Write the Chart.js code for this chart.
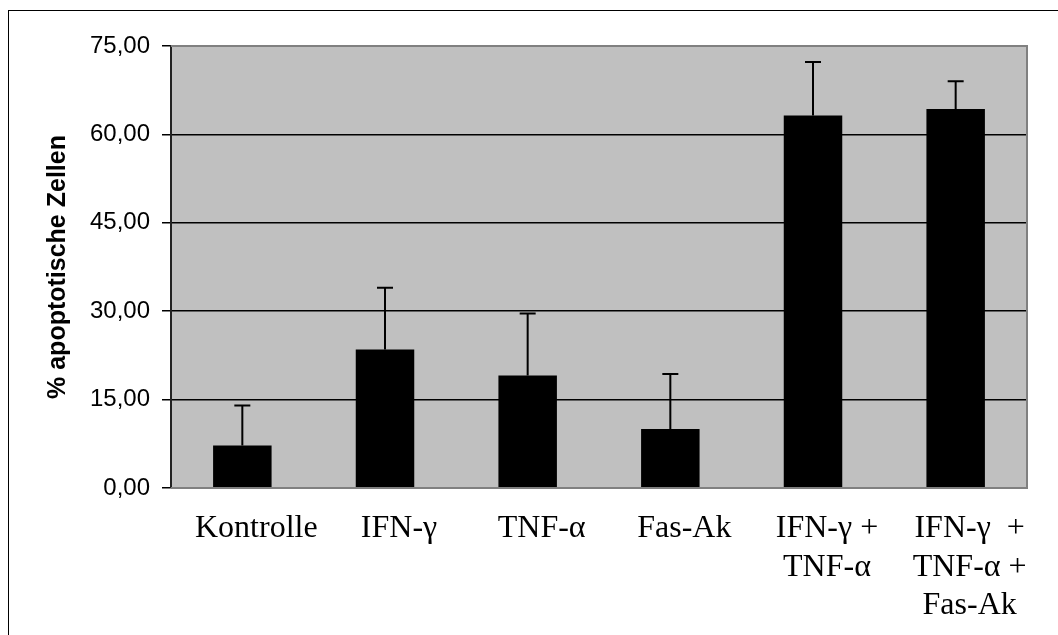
<!DOCTYPE html>
<html>
<head>
<meta charset="utf-8">
<script src="https://cdn.jsdelivr.net/npm/chart.js@4.4.1/dist/chart.umd.min.js"></script>
<style>
  html, body { margin: 0; padding: 0; background: #fff; }
  #wrap { width: 1058px; height: 635px; position: relative; }
</style>
</head>
<body>
<div id="wrap"><canvas id="chart"></canvas></div>
<script>
// DATA
const categories = [
  'Kontrolle',
  'IFN-γ',
  'TNF-α',
  'Fas-Ak',
  ['IFN-γ +', 'TNF-α'],
  ['IFN-γ  +', 'TNF-α +', 'Fas-Ak']
];
const apoptosisMean = [7.2, 23.5, 19.1, 10.0, 63.2, 64.3];
const apoptosisErr  = [6.8, 10.5, 10.5, 9.35, 9.1, 4.7];
const yTicks = [0, 15, 30, 45, 60, 75];

// grey plot background + grey frame on top/right/bottom, outer box
const plotBackground = {
  id: 'plotBackground',
  beforeDraw(chart) {
    const { ctx, chartArea: a } = chart;
    ctx.save();
    ctx.fillStyle = '#c0c0c0';
    ctx.fillRect(a.left, a.top, a.right - a.left, a.bottom - a.top);
    // outer frame
    ctx.strokeStyle = '#000';
    ctx.lineWidth = 1;
    ctx.strokeRect(8.5, 10.5, 1060, 640);
    ctx.restore();
  },
  afterDatasetsDraw(chart) {
    const { ctx, chartArea: a } = chart;
    ctx.save();
    ctx.strokeStyle = '#808080';
    ctx.lineWidth = 2;
    ctx.beginPath();
    ctx.moveTo(a.left, a.top);
    ctx.lineTo(a.right, a.top);
    ctx.lineTo(a.right, a.bottom);
    ctx.lineTo(a.left, a.bottom);
    ctx.stroke();
    ctx.restore();
  }
};

// upward error bars
const errorBars = {
  id: 'errorBars',
  afterDatasetsDraw(chart) {
    const { ctx } = chart;
    const y = chart.scales.y;
    const meta = chart.getDatasetMeta(0);
    ctx.save();
    ctx.strokeStyle = '#000';
    ctx.lineWidth = 2;
    meta.data.forEach((bar, i) => {
      const top = y.getPixelForValue(apoptosisMean[i] + apoptosisErr[i]);
      ctx.beginPath();
      ctx.moveTo(bar.x, bar.y);
      ctx.lineTo(bar.x, top);
      ctx.moveTo(bar.x - 8, top);
      ctx.lineTo(bar.x + 8, top);
      ctx.stroke();
    });
    ctx.restore();
  }
};

function buildChart() {
  const ctx = document.getElementById('chart');
  new Chart(ctx, {
    type: 'bar',
    data: {
      labels: categories,
      datasets: [{
        data: apoptosisMean,
        backgroundColor: '#000',
        borderWidth: 0,
        barPercentage: 0.41,
        categoryPercentage: 1
      }]
    },
    options: {
      responsive: true,
      maintainAspectRatio: false,
      animation: false,
      layout: { padding: { top: 46, right: 31, left: 0, bottom: 0 } },
      plugins: { legend: { display: false }, tooltip: { enabled: false } },
      scales: {
        x: {
          grid: { display: false, drawTicks: false },
          border: { display: false },
          ticks: {
            color: '#000',
            padding: 22,
            labelOffset: 14,
            maxRotation: 0,
            autoSkip: false,
            font: { family: '"Liberation Serif", "Times New Roman", serif', size: 32, lineHeight: 1.19 }
          },
          afterFit(scale) { scale.height = 147; }
        },
        y: {
          min: 0,
          max: 75,
          afterBuildTicks(scale) { scale.ticks = yTicks.map(v => ({ value: v })); },
          grid: {
            color: (c) => (c.tick && (c.tick.value === 0 || c.tick.value === 75)) ? 'rgba(0,0,0,0)' : '#000',
            tickColor: '#000',
            tickLength: 9,
            lineWidth: 1.5
          },
          border: { color: '#222', width: 2 },
          ticks: {
            color: '#000',
            padding: 12,
            font: { family: '"Liberation Sans", Arial, sans-serif', size: 24 },
            callback: (v) => Number(v).toFixed(2).replace('.', ',')
          },
          title: {
            display: true,
            text: '% apoptotische Zellen',
            color: '#000',
            padding: { top: 43, bottom: 0 },
            font: { family: '"Liberation Sans", Arial, sans-serif', size: 25, weight: 'bold' }
          },
          afterFit(scale) { scale.width = 171; }
        }
      }
    },
    plugins: [plotBackground, errorBars]
  });
}

document.addEventListener('DOMContentLoaded', buildChart);
</script>
</body>
</html>
